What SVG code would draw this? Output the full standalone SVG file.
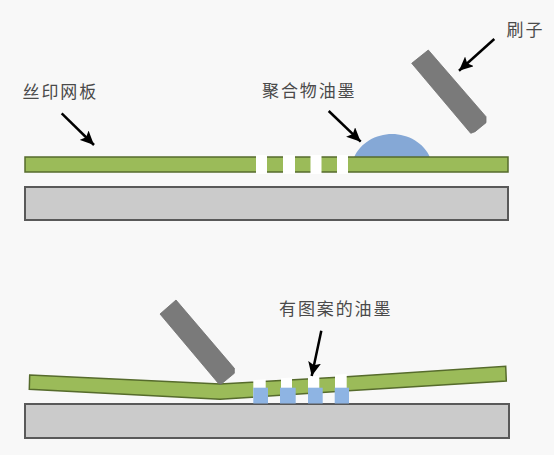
<svg xmlns="http://www.w3.org/2000/svg" width="554" height="455" viewBox="0 0 554 455">
<style>
.plate{fill:#9bbb59;stroke:#566b2c;stroke-width:1.5}
.gap{fill:#fff}
.base{fill:#cbcbcb;stroke:#595959;stroke-width:2}
.ink{fill:#8eb4e3}
.brush{fill:#7a7a7a;stroke:#6f6f6f;stroke-width:.8}
.lbl{font-family:"Noto Sans CJK SC","Noto Sans",sans-serif;font-size:17px;letter-spacing:1.9px;fill:#4a4a4a}
.arr{fill:none;stroke:#000;stroke-width:2.5;marker-end:url(#ah)}
</style>
<defs>
<marker id="ah" markerUnits="userSpaceOnUse" markerWidth="15" markerHeight="13" refX="14" refY="6.500" orient="auto">
<path d="M0 0L14 6.500L0 13L3 6.500Z" fill="#000"/>
</marker>
</defs>
<rect width="554" height="455" fill="#f8f8f8"/>
<g id="top-base"><rect class="base" x="25" y="187" width="483" height="33"/></g>
<g id="top-ink"><path d="M354 157.500C360 143 376 134 392 134C408 134 424 143 430 157.500Z" fill="#85a8d6"/></g>
<g id="top-screen">
<rect class="plate" x="25" y="157" width="483" height="15"/>
<rect class="gap" x="256" y="155" width="11" height="19"/>
<rect class="gap" x="283" y="155" width="12" height="19"/>
<rect class="gap" x="310.500" y="155" width="11" height="19"/>
<rect class="gap" x="337" y="155" width="11" height="19"/>
</g>
<g id="top-brush"><path class="brush" d="M411.700 63.300L428.300 50L486 116.700V122.700L475 131.700L470.700 133.300Z"/></g>
<g id="bottom-base"><rect class="base" x="25" y="404" width="484" height="34"/></g>
<g id="bottom-screen">
<path class="plate" d="M29.700 375L220 384L346.700 376.700L505.700 366.300L506.300 381L348.300 390.700L220 399.300L29.300 389.300Z"/>
<path class="gap" d="M253.300 380L265.700 379.200V398L253.300 399Z"/>
<path class="gap" d="M281 378.300L292 377.600V396.500L281 397Z"/>
<path class="gap" d="M308 376.500L319.300 375.800V394.500L308 395.300Z"/>
<path class="gap" d="M335 374.800L346.700 374V392.800L335 393.500Z"/>
</g>
<g id="bottom-ink">
<rect class="ink" x="253.300" y="387.700" width="14.700" height="15.800"/>
<rect class="ink" x="280" y="387.700" width="15.700" height="15.800"/>
<rect class="ink" x="308" y="387.700" width="14.700" height="15.800"/>
<rect class="ink" x="334.700" y="387.700" width="14.300" height="15.800"/>
</g>
<g id="bottom-brush"><path class="brush" d="M160 314L176 300L234.300 368.300V373.300L221 384.300L218.300 383.300Z"/></g>
<g id="connectors">
<path class="arr" d="M61.700 113.300L94 145"/>
<path class="arr" d="M328.700 111L360.700 141.700"/>
<path class="arr" d="M494.300 39L459 70.700"/>
<path class="arr" d="M321.300 330.700L311.700 376"/>
</g>
<g id="label-screen"><text class="lbl" x="22.500" y="98">丝印网板</text></g>
<g id="label-ink"><text class="lbl" x="262" y="97">聚合物油墨</text></g>
<g id="label-brush"><text class="lbl" x="506.500" y="36">刷子</text></g>
<g id="label-pattern"><text class="lbl" x="279" y="315">有图案的油墨</text></g>
</svg>
